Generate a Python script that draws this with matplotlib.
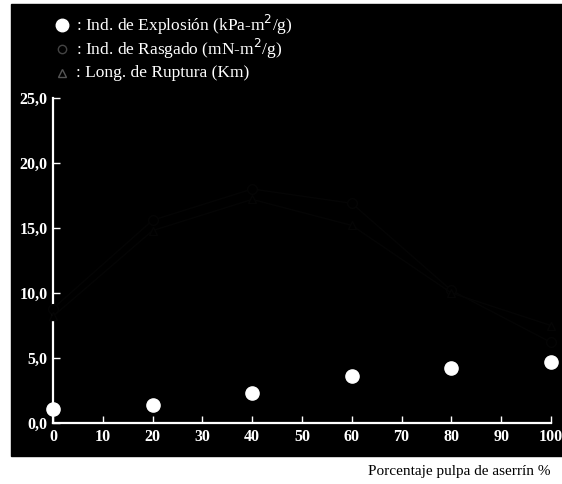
import matplotlib
matplotlib.use("Agg")
import matplotlib.pyplot as plt
from matplotlib.patches import Rectangle
from matplotlib.lines import Line2D

# datos
pct_aserrin = [0, 20, 40, 60, 80, 100]
ind_explosion = [1.1, 1.4, 2.3, 3.6, 4.2, 4.7]
ind_rasgado = [8.8, 15.6, 18.0, 16.9, 10.2, 6.2]
long_ruptura = [8.2, 14.8, 17.2, 15.2, 10.0, 7.5]

x_ticks = [0, 10, 20, 30, 40, 50, 60, 70, 80, 90, 100]
y_ticks = [0.0, 5.0, 10.0, 15.0, 20.0, 25.0]
y_labels = ["0,0", "5,0", "10,0", "15,0", "20,0", "25,0"]

FONT = "Liberation Serif"
FAINT = "#050505"

fig = plt.figure(figsize=(5.62, 4.84), dpi=100)
fig.patch.set_facecolor("white")

# fondo negro (figura escaneada)
fondo = Rectangle((11 / 562, 28 / 484), 551 / 562, 452 / 484,
                  transform=fig.transFigure, color="black", zorder=-10)
fig.patches.append(fondo)

ax = fig.add_axes([53 / 562, 61 / 484, 498 / 562, 325 / 484])
ax.set_zorder(2)
ax.set_facecolor("black")

# series casi invisibles en el original
ax.plot(pct_aserrin, ind_rasgado, color=FAINT, lw=1, marker="o", ms=7,
        mfc="black", mec=FAINT, clip_on=False, zorder=5)
ax.plot(pct_aserrin, long_ruptura, color=FAINT, lw=1, marker="^", ms=6,
        mfc="black", mec=FAINT, clip_on=False, zorder=5)
ax.plot(pct_aserrin, ind_explosion, ls="none", marker="o", ms=9.5,
        color="white", clip_on=False, zorder=6)

ax.set_xlim(0, 100)
ax.set_ylim(0, 25)
ax.set_xticks(x_ticks)
ax.set_yticks(y_ticks)
ax.set_yticklabels(y_labels)
for s in ["top", "right"]:
    ax.spines[s].set_visible(False)
for s in ["left", "bottom"]:
    ax.spines[s].set_color("white")
    ax.spines[s].set_linewidth(1.6)
ax.tick_params(colors="white", direction="in", length=5, width=1, labelsize=11.5, pad=4)
for lab in ax.get_xticklabels() + ax.get_yticklabels():
    lab.set_fontfamily(FONT)
    lab.set_fontweight("bold")
    lab.set_color("white")

# leyenda como texto
leyenda = [
    ("o", "white", "white", ": Ind. de Explosión (kPa-m$^2$/g)"),
    ("o", "black", "#444444", ": Ind. de Rasgado (mN-m$^2$/g)"),
    ("^", "black", "#555555", ": Long. de Ruptura (Km)"),
]
for i, (mk, fc, ec, txt) in enumerate(leyenda):
    yy = 1 - (25 + 24 * i) / 484
    fig.add_artist(Line2D([62 / 562], [yy], marker=mk, ms=9 if fc == "white" else 6,
                          mfc=fc, mec=ec, ls="none", transform=fig.transFigure))
    fig.text(76 / 562, yy, txt, color="white", fontsize=12.5, family=FONT,
             va="center", ha="left")

fig.text(550 / 562, 1 - 472 / 484, "Porcentaje pulpa de aserrín %", color="black",
         fontsize=11, family=FONT, ha="right", va="center")

fig.savefig("out.png", dpi=100, facecolor="white")
